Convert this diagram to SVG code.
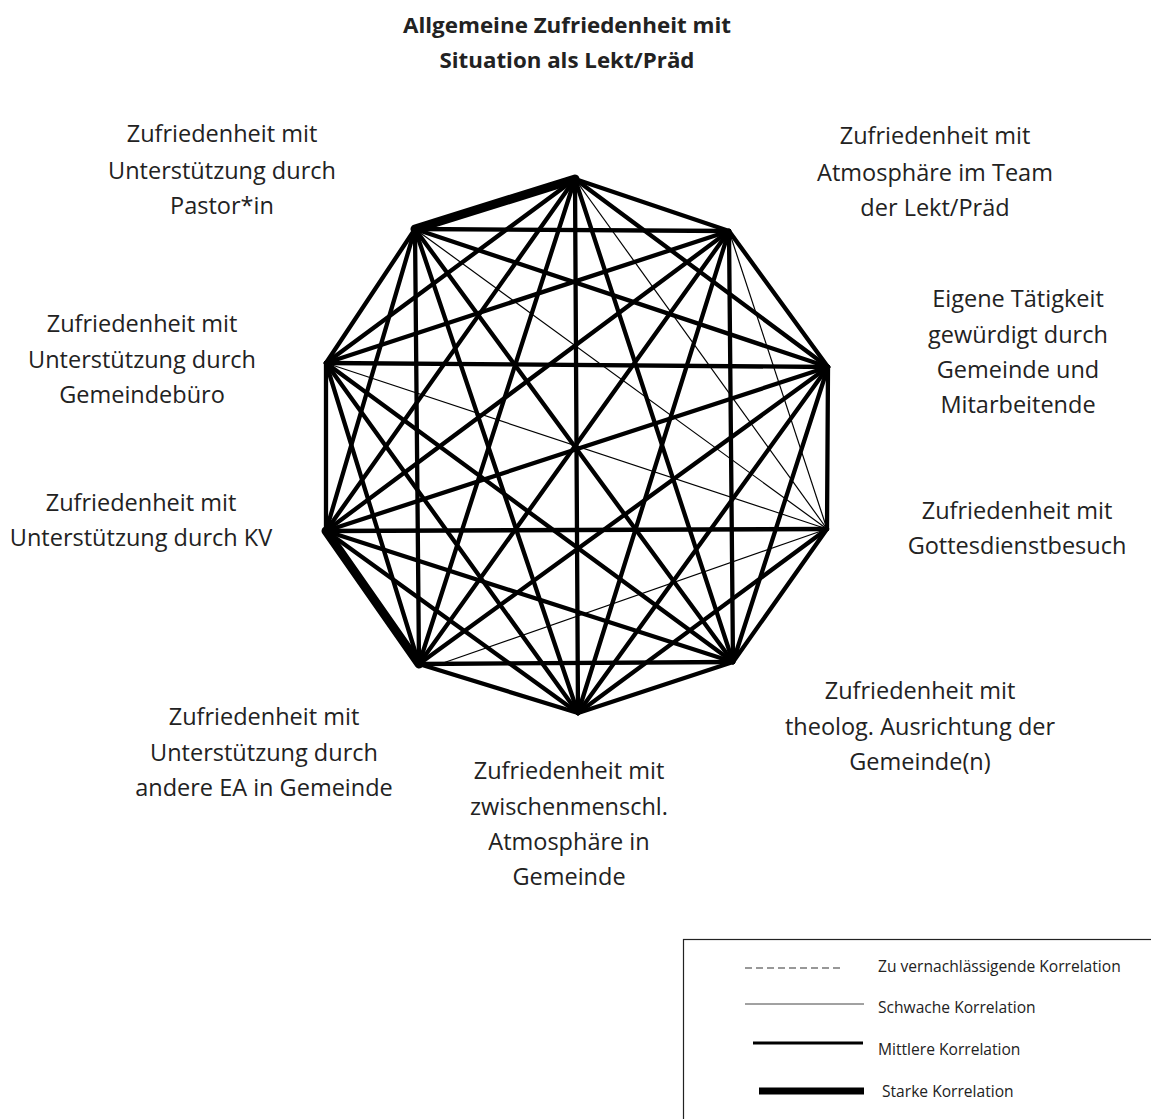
<svg xmlns="http://www.w3.org/2000/svg" width="1151" height="1119" viewBox="0 0 1151 1119">
<style>
  .lbl { font-family: "Open Sans", "Liberation Sans", sans-serif; font-size: 23.5px; fill: #222; text-anchor: middle; }
  .ttl { font-family: "Open Sans", "Liberation Sans", sans-serif; font-size: 21px; font-weight: bold; fill: #222; text-anchor: middle; }
  .leg { font-family: "Open Sans", "Liberation Sans", sans-serif; font-size: 15.6px; fill: #222; }
  .med { stroke: #000; stroke-width: 4.3; stroke-linecap: round; fill: none; }
  .weak { stroke: #000; stroke-width: 1.2; fill: none; }
  .strong { stroke: #000; stroke-width: 9; stroke-linecap: round; fill: none; }
</style>
<rect width="1151" height="1119" fill="#fff"/>
<g id="connectors">
  <!-- medium correlations -->
  <line class="med" x1="575" y1="179" x2="729" y2="231"/>
  <line class="med" x1="575" y1="179" x2="828" y2="367"/>
  <line class="med" x1="575" y1="179" x2="733" y2="662"/>
  <line class="med" x1="575" y1="179" x2="578" y2="713"/>
  <line class="med" x1="575" y1="179" x2="419" y2="664"/>
  <line class="med" x1="575" y1="179" x2="326" y2="531"/>
  <line class="med" x1="575" y1="179" x2="326" y2="363"/>
  <line class="med" x1="729" y1="231" x2="828" y2="367"/>
  <line class="med" x1="729" y1="231" x2="733" y2="662"/>
  <line class="med" x1="729" y1="231" x2="578" y2="713"/>
  <line class="med" x1="729" y1="231" x2="419" y2="664"/>
  <line class="med" x1="729" y1="231" x2="326" y2="531"/>
  <line class="med" x1="729" y1="231" x2="326" y2="363"/>
  <line class="med" x1="729" y1="231" x2="415" y2="229"/>
  <line class="med" x1="828" y1="367" x2="827" y2="529"/>
  <line class="med" x1="828" y1="367" x2="733" y2="662"/>
  <line class="med" x1="828" y1="367" x2="578" y2="713"/>
  <line class="med" x1="828" y1="367" x2="419" y2="664"/>
  <line class="med" x1="828" y1="367" x2="326" y2="531"/>
  <line class="med" x1="828" y1="367" x2="326" y2="363"/>
  <line class="med" x1="828" y1="367" x2="415" y2="229"/>
  <line class="med" x1="827" y1="529" x2="733" y2="662"/>
  <line class="med" x1="827" y1="529" x2="578" y2="713"/>
  <line class="med" x1="827" y1="529" x2="326" y2="531"/>
  <line class="med" x1="733" y1="662" x2="578" y2="713"/>
  <line class="med" x1="733" y1="662" x2="419" y2="664"/>
  <line class="med" x1="733" y1="662" x2="326" y2="531"/>
  <line class="med" x1="733" y1="662" x2="326" y2="363"/>
  <line class="med" x1="733" y1="662" x2="415" y2="229"/>
  <line class="med" x1="578" y1="713" x2="419" y2="664"/>
  <line class="med" x1="578" y1="713" x2="326" y2="531"/>
  <line class="med" x1="578" y1="713" x2="326" y2="363"/>
  <line class="med" x1="578" y1="713" x2="415" y2="229"/>
  <line class="med" x1="419" y1="664" x2="326" y2="363"/>
  <line class="med" x1="419" y1="664" x2="415" y2="229"/>
  <line class="med" x1="326" y1="531" x2="326" y2="363"/>
  <line class="med" x1="326" y1="531" x2="415" y2="229"/>
  <line class="med" x1="326" y1="363" x2="415" y2="229"/>
  <!-- weak correlations -->
  <line class="weak" x1="575" y1="179" x2="827" y2="529"/>
  <line class="weak" x1="729" y1="231" x2="827" y2="529"/>
  <line class="weak" x1="415" y1="229" x2="827" y2="529"/>
  <line class="weak" x1="326" y1="363" x2="827" y2="529"/>
  <line class="weak" x1="827" y1="529" x2="443" y2="663"/>
  <!-- strong correlations -->
  <line class="strong" x1="415" y1="229" x2="575" y2="179"/>
  <line class="strong" x1="326" y1="531" x2="419" y2="664"/>
</g>
<g id="n0">
  <text class="ttl" x="567" y="33" textLength="328" lengthAdjust="spacingAndGlyphs">Allgemeine Zufriedenheit mit</text>
  <text class="ttl" x="567" y="68" textLength="255" lengthAdjust="spacingAndGlyphs">Situation als Lekt/Präd</text>
</g>
<g id="n1">
  <text class="lbl" x="935" y="144">Zufriedenheit mit</text>
  <text class="lbl" x="935" y="181">Atmosphäre im Team</text>
  <text class="lbl" x="935" y="216">der Lekt/Präd</text>
</g>
<g id="n2">
  <text class="lbl" x="1018" y="307">Eigene Tätigkeit</text>
  <text class="lbl" x="1018" y="343">gewürdigt durch</text>
  <text class="lbl" x="1018" y="378">Gemeinde und</text>
  <text class="lbl" x="1018" y="413">Mitarbeitende</text>
</g>
<g id="n3">
  <text class="lbl" x="1017" y="519">Zufriedenheit mit</text>
  <text class="lbl" x="1017" y="554">Gottesdienstbesuch</text>
</g>
<g id="n4">
  <text class="lbl" x="920" y="699">Zufriedenheit mit</text>
  <text class="lbl" x="920" y="735">theolog. Ausrichtung der</text>
  <text class="lbl" x="920" y="770">Gemeinde(n)</text>
</g>
<g id="n5">
  <text class="lbl" x="569" y="779">Zufriedenheit mit</text>
  <text class="lbl" x="569" y="815">zwischenmenschl.</text>
  <text class="lbl" x="569" y="850">Atmosphäre in</text>
  <text class="lbl" x="569" y="885">Gemeinde</text>
</g>
<g id="n6">
  <text class="lbl" x="264" y="725">Zufriedenheit mit</text>
  <text class="lbl" x="264" y="761">Unterstützung durch</text>
  <text class="lbl" x="264" y="796">andere EA in Gemeinde</text>
</g>
<g id="n7">
  <text class="lbl" x="141" y="511">Zufriedenheit mit</text>
  <text class="lbl" x="141" y="546">Unterstützung durch KV</text>
</g>
<g id="n8">
  <text class="lbl" x="142" y="332">Zufriedenheit mit</text>
  <text class="lbl" x="142" y="368">Unterstützung durch</text>
  <text class="lbl" x="142" y="403">Gemeindebüro</text>
</g>
<g id="n9">
  <text class="lbl" x="222" y="142">Zufriedenheit mit</text>
  <text class="lbl" x="222" y="179">Unterstützung durch</text>
  <text class="lbl" x="222" y="214">Pastor*in</text>
</g>
<g id="legend">
  <rect x="683.5" y="939.5" width="500" height="300" fill="none" stroke="#222" stroke-width="1.2"/>
  <line x1="745" y1="968" x2="843" y2="968" stroke="#333" stroke-width="1.2" stroke-dasharray="7,4"/>
  <text class="leg" x="878" y="972">Zu vernachlässigende Korrelation</text>
  <line x1="745" y1="1004" x2="864" y2="1004" stroke="#444" stroke-width="1"/>
  <text class="leg" x="878" y="1013">Schwache Korrelation</text>
  <line x1="753" y1="1043" x2="863" y2="1043" stroke="#000" stroke-width="3"/>
  <text class="leg" x="878" y="1055">Mittlere Korrelation</text>
  <line x1="759" y1="1091" x2="864" y2="1091" stroke="#000" stroke-width="7"/>
  <text class="leg" x="882" y="1097">Starke Korrelation</text>
</g>
</svg>
